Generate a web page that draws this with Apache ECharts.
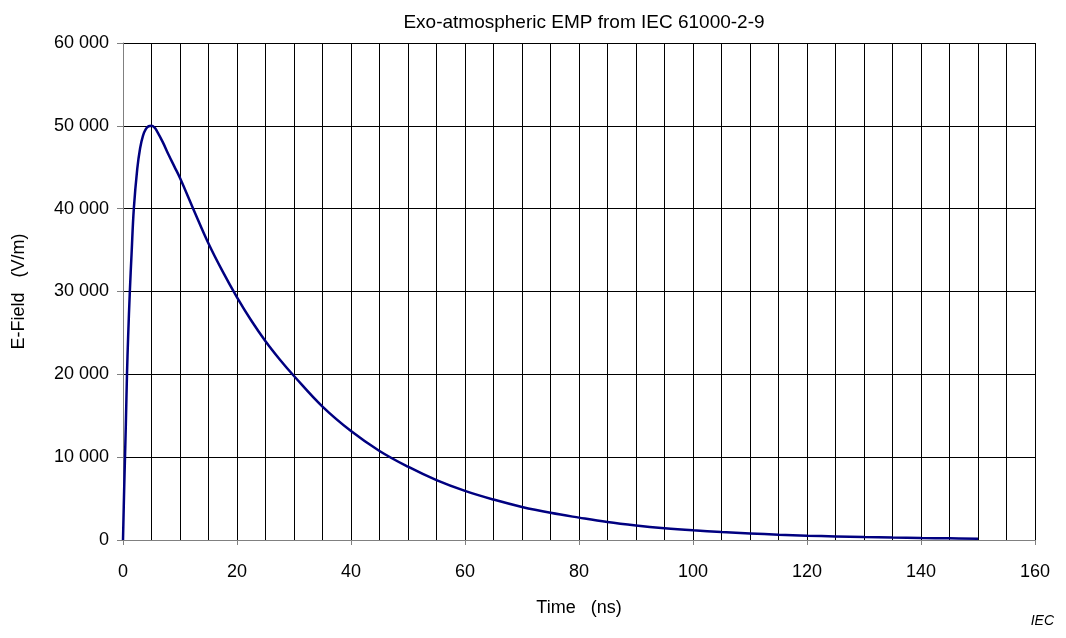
<!DOCTYPE html>
<html>
<head>
<meta charset="utf-8">
<title>Exo-atmospheric EMP from IEC 61000-2-9</title>
<script src="https://cdn.jsdelivr.net/npm/echarts@6/dist/echarts.min.js"></script>
<style>
  html, body { margin: 0; padding: 0; background: #ffffff; }
  #chart { width: 1066px; height: 638px; }
</style>
</head>
<body>
<div id="chart"></div>
<script>
// Time samples in ns
const timeNs = [
  0, 0.2, 0.35, 0.5, 0.7, 0.9, 1.2, 1.5, 1.9, 2.5, 3, 3.5, 4, 4.5, 5, 5.5, 6, 7, 8, 9, 10,
  12.5, 15, 17.5, 20, 22.5, 25, 27.5, 30, 35, 40, 45, 50, 55, 60, 65, 70, 75, 80,
  85, 90, 95, 100, 105, 110, 115, 120, 125, 130, 135, 140, 145, 150
];
// Electric field strength in V/m at each sample
const eField = [
  0, 6000, 10000, 14000, 20000, 24500, 30000, 34500, 40000, 44800, 47300, 48800, 49600, 49950, 50000, 49800, 49300, 48000, 46500, 45100, 43700,
  39700, 35800, 32400, 29300, 26500, 24000, 21800, 19800, 16100, 13150, 10750, 8850, 7230, 5930, 4880, 3990, 3280, 2700,
  2170, 1760, 1430, 1170, 960, 790, 640, 520, 430, 350, 290, 240, 200, 160
];

const titleText = 'Exo-atmospheric EMP from IEC 61000-2-9';
const xName = 'Time   (ns)';
const yName = 'E-Field   (V/m)';
const sourceNote = 'IEC';

const font = '"Liberation Sans", Arial, sans-serif';

const chart = echarts.init(document.getElementById('chart'), null, { renderer: 'canvas' });

function groupThousands(v) {
  return String(v).replace(/\B(?=(\d{3})+(?!\d))/g, ' ');
}

chart.setOption({
  animation: false,
  backgroundColor: '#ffffff',
  textStyle: { fontFamily: font, color: '#000' },
  title: [{
    text: titleText,
    left: 579,
    top: 8,
    textAlign: 'center',
    textStyle: { fontFamily: font, fontSize: 19, fontWeight: 'normal', color: '#000' }
  }],
  graphic: [{
    type: 'text',
    right: 12,
    top: 614,
    style: { text: sourceNote, fontFamily: font, fontSize: 14, fontStyle: 'italic', fill: '#000' }
  }],
  grid: {
    left: 123, right: 31, top: 43, bottom: 98,
    containLabel: false,
    outerBoundsMode: 'none'
  },
  xAxis: {
    type: 'value',
    min: 0,
    max: 160,
    interval: 20,
    name: xName,
    nameLocation: 'middle',
    nameGap: 59,
    nameTextStyle: { fontFamily: font, fontSize: 18, color: '#000' },
    axisLine: { show: true, onZero: false, lineStyle: { color: '#808080', width: 1 } },
    axisTick: { show: true, length: 5, inside: false, lineStyle: { color: '#808080' } },
    axisLabel: { fontFamily: font, fontSize: 18, color: '#000', margin: 23 },
    splitLine: { show: true, lineStyle: { color: '#000', width: 1 } },
    minorTick: { show: false, splitNumber: 4 },
    minorSplitLine: { show: true, lineStyle: { color: '#000', width: 1 } }
  },
  yAxis: {
    type: 'value',
    min: 0,
    max: 60000,
    interval: 10000,
    name: yName,
    nameLocation: 'middle',
    nameGap: 95,
    nameRotate: 90,
    nameTextStyle: { fontFamily: font, fontSize: 18, color: '#000' },
    axisLine: { show: true, lineStyle: { color: '#808080', width: 1 } },
    axisTick: { show: true, length: 6, inside: false, lineStyle: { color: '#808080' } },
    axisLabel: { fontFamily: font, fontSize: 18, color: '#000', margin: 14, formatter: groupThousands },
    splitLine: { show: true, lineStyle: { color: '#000', width: 1 } }
  },
  series: [{
    type: 'line',
    data: timeNs.map((t, i) => [t, eField[i]]),
    showSymbol: false,
    smooth: 0.4,
    clip: true,
    lineStyle: { color: '#000080', width: 2.5 },
    itemStyle: { color: '#000080' }
  }]
});
</script>
</body>
</html>
